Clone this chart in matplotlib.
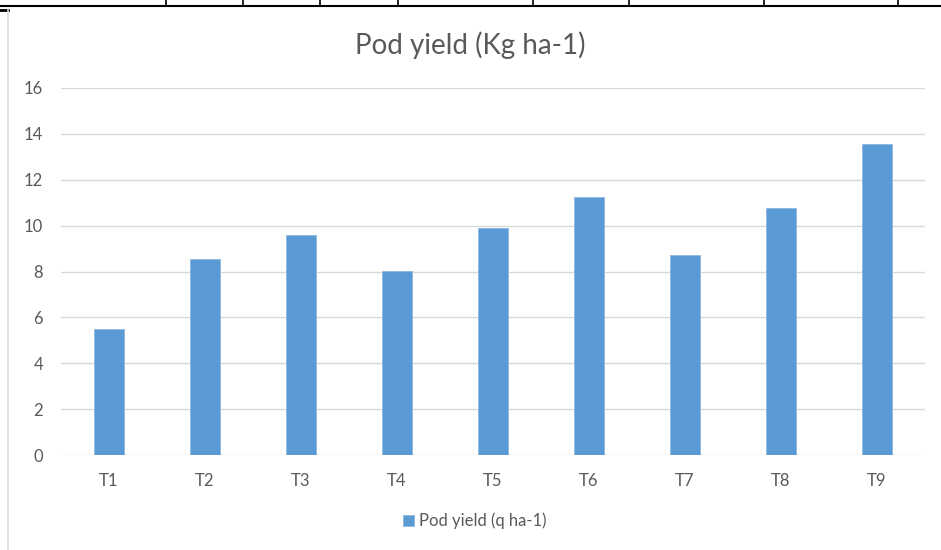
import matplotlib.pyplot as plt
from matplotlib.lines import Line2D

treatments = ["T1", "T2", "T3", "T4", "T5", "T6", "T7", "T8", "T9"]
pod_yield = [5.49, 8.54, 9.59, 8.02, 9.90, 11.25, 8.72, 10.77, 13.56]
y_ticks = [0, 2, 4, 6, 8, 10, 12, 14, 16]

plt.rcParams['font.family'] = ['Lato', 'DejaVu Sans']
text_color = '#595959'
bar_color = '#5B9BD5'
grid_color = '#D9D9D9'

fig = plt.figure(figsize=(9.41, 5.5), dpi=100)
ax = fig.add_axes([0.0648, 0.1727, 0.918, 0.6673])

x = range(len(treatments))
ax.bar(x, pod_yield, width=0.31, color=bar_color, edgecolor='#8DB6E0', linewidth=0.6,
       label='Pod yield (q ha-1)', zorder=3)

ax.set_xlim(-0.5, len(treatments) - 0.5)
ax.set_ylim(0, 16)
ax.set_yticks(y_ticks)
ax.set_xticks(list(x))
ax.set_xticklabels(treatments)
ax.yaxis.grid(True, color=grid_color, linewidth=1.0, zorder=0)
ax.set_axisbelow(True)
for s in ax.spines.values():
    s.set_visible(False)
ax.tick_params(axis='both', length=0, labelsize=12, colors=text_color)
ax.tick_params(axis='x', pad=13)
ax.tick_params(axis='y', pad=13)

fig.text(0.5, 0.918, "Pod yield (Kg ha-1)", ha='center', va='center',
         fontsize=20, color=text_color)

ax.legend(loc='center', bbox_to_anchor=(0.479, -0.18), frameon=False,
          fontsize=12, labelcolor=text_color, handlelength=0.7, handleheight=0.7,
          handletextpad=0.3)

# page/table border remnants around the chart
fig.add_artist(Line2D([0, 1], [1 - 6 / 550, 1 - 6 / 550], color='black', linewidth=1.5))
for xv in [166, 243, 320, 398, 533, 629, 764, 898]:
    fig.add_artist(Line2D([xv / 941, xv / 941], [1, 1 - 6 / 550], color='black', linewidth=1.2))
fig.add_artist(Line2D([0, 8 / 941], [1 - 10 / 550, 1 - 10 / 550], color='black', linewidth=2))
fig.add_artist(Line2D([8 / 941, 8 / 941], [0, 1 - 10 / 550], color='#D9D9D9', linewidth=1.2))

fig.savefig('out.png', dpi=100)
